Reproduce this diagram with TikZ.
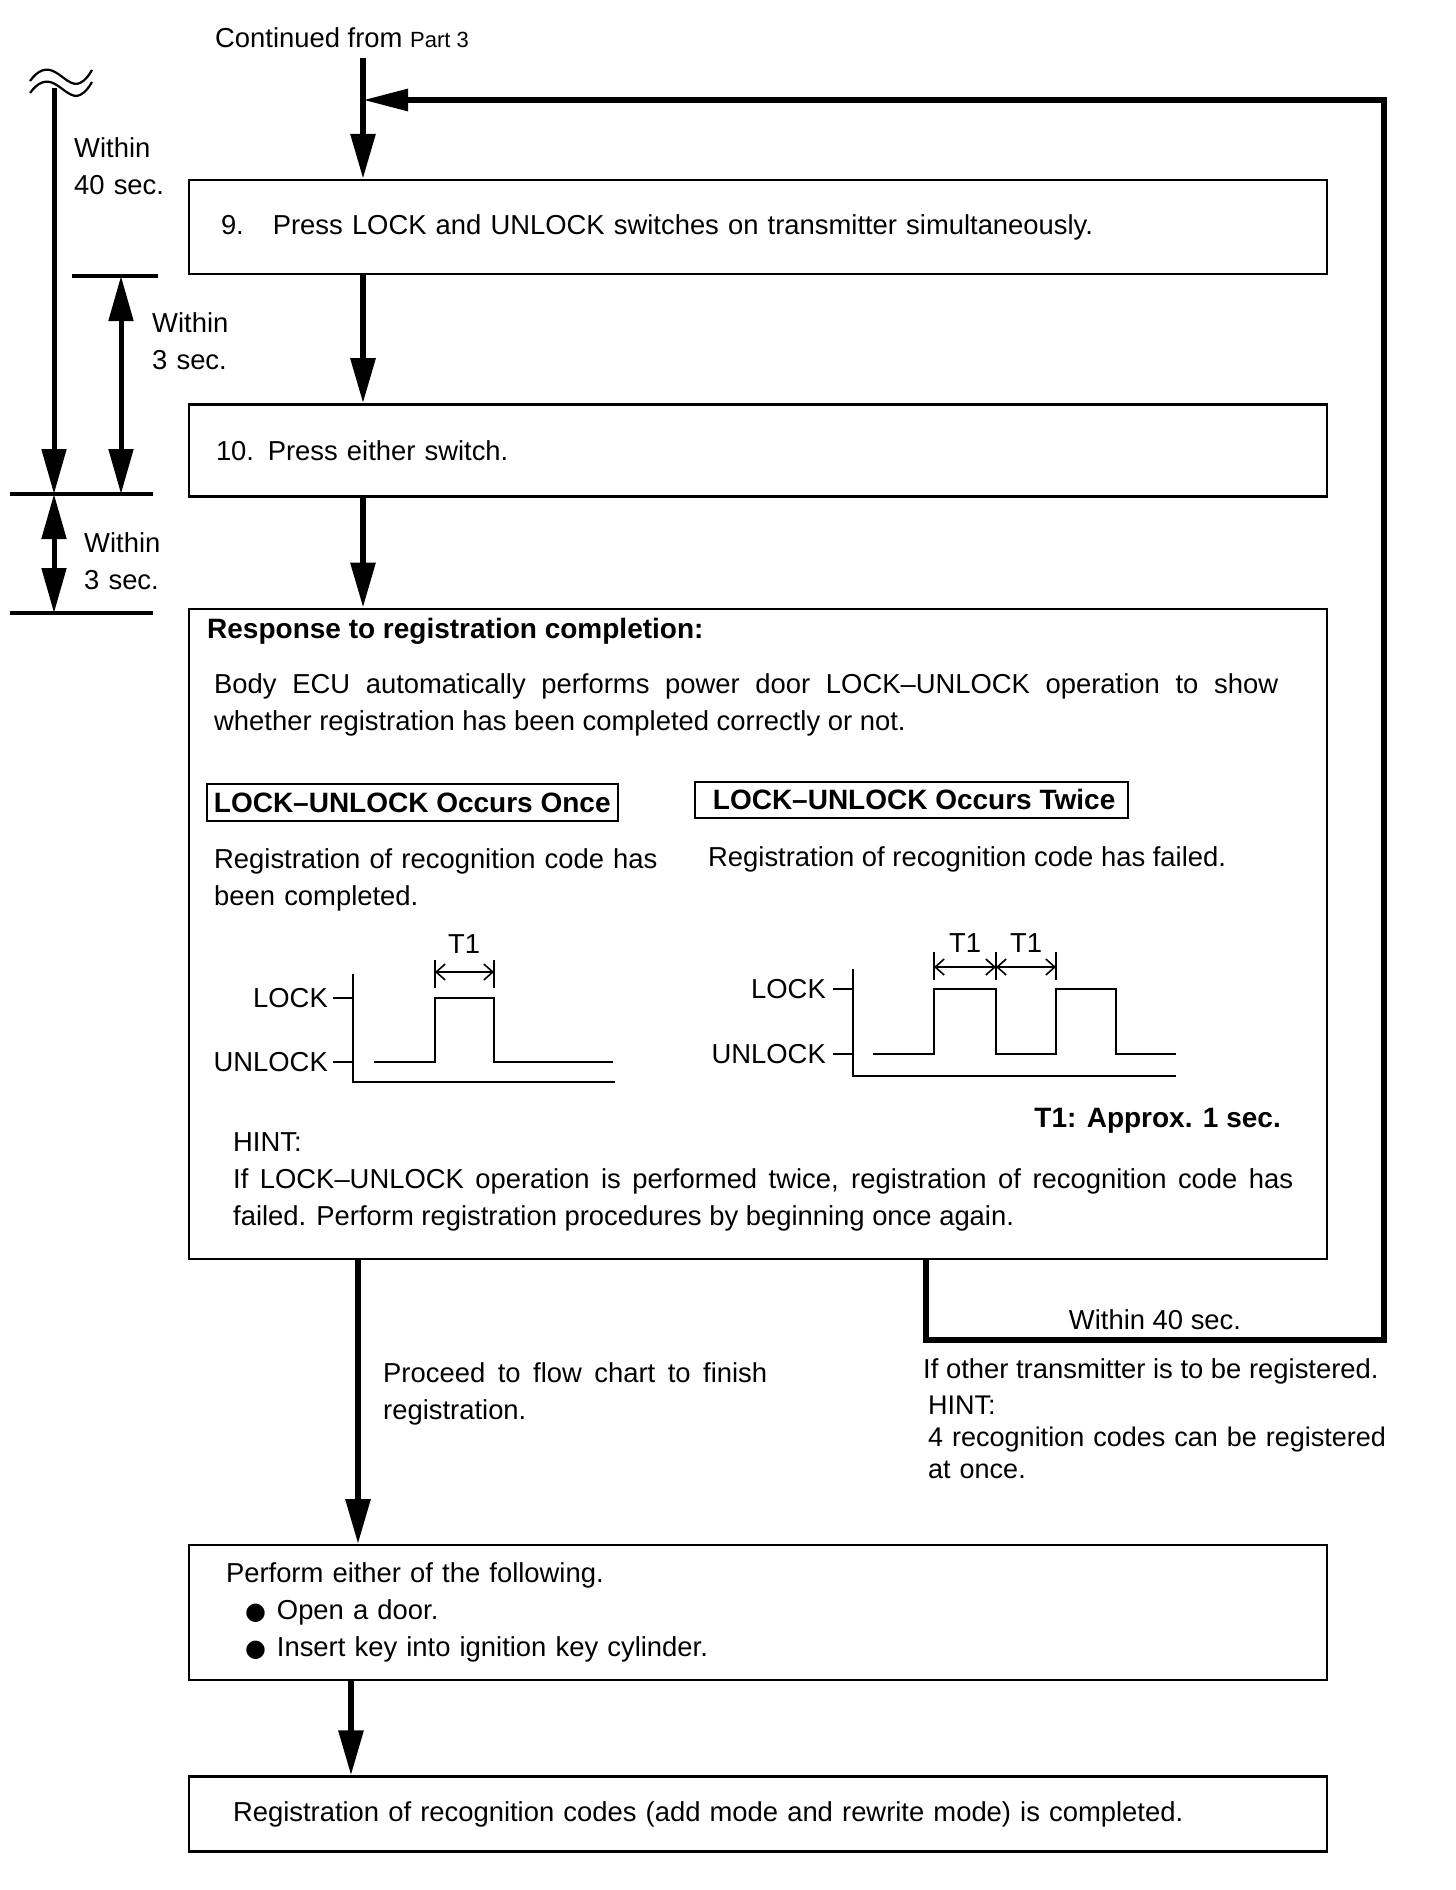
\documentclass[tikz,border=0pt]{standalone}
\usepackage{fontspec}
\setmainfont{Liberation Sans}
\newfontfamily\dejavu{DejaVu Sans}
\usetikzlibrary{positioning,arrows.meta}
\newcommand{\txtsize}{\fontsize{27.4}{37}\selectfont}
\newcommand{\boldsize}{\fontsize{28}{37}\selectfont\bfseries}
\newcommand{\bul}{{\dejavu\fontsize{24}{24}\selectfont ●}}

\begin{document}
\begin{tikzpicture}[x=1pt,y=-1pt,font=\txtsize,>={Triangle[length=45pt,width=24pt]},
  stepbox/.style={draw,line width=2.4pt,align=left},
  tagbox/.style={draw,line width=1.8pt,inner ysep=0pt,font=\boldsize},
  flow/.style={line width=6pt,->},
  dimline/.style={line width=5pt},
  refline/.style={line width=3.5pt},
  sig/.style={line width=2pt},
  tee/.style={line width=1.6pt,{Straight Barb[length=9pt,width=16pt]}-{Straight Barb[length=9pt,width=16pt]}},
  lbl/.style={inner sep=0pt}]
  \useasboundingbox (0,0) rectangle (1456,1890);

  \node[lbl,anchor=base west] (cont) at (215,47) {Continued from {\fontsize{22}{22}\selectfont Part 3}};
  \coordinate (top) at (363,58);
  \coordinate (back) at (358,0);
  \coordinate (last) at (351,0);

  \node[stepbox,inner xsep=32pt,text width=1074pt,minimum height=94pt] (step9) at (758,227)
    {9.\hspace{29pt}Press LOCK and UNLOCK switches on transmitter simultaneously.};
  \node[stepbox,inner xsep=27pt,text width=1084pt,minimum height=92pt,below=128pt of step9] (step10)
    {10. Press either switch.};
  \node[stepbox,inner xsep=30pt,text width=1078pt,minimum height=650pt,below=110pt of step10] (resp) {};
  \node[stepbox,inner xsep=37pt,text width=1064pt,minimum height=135pt,below=284pt of resp] (perform)
    {Perform either of the following.\\\hspace*{19pt}\bul\hspace{11pt}Open a door.\\\hspace*{19pt}\bul\hspace{11pt}Insert key into ignition key cylinder.};
  \node[stepbox,inner xsep=44pt,text width=1050pt,minimum height=75pt,below=94pt of perform] (done)
    {Registration of recognition codes (add mode and rewrite mode) is completed.};

  \draw[flow] (top) -- (top |- step9.north);
  \draw[flow] (step9.south -| top) -- (step10.north -| top);
  \draw[flow] (step10.south -| top) -- (resp.north -| top);
  \draw[flow] (resp.south -| back) -- (perform.north -| back);
  \draw[flow] (perform.south -| last) -- (done.north -| last);

  \coordinate (lp1) at (926,1340);
  \coordinate (lp2) at (1384,1340);
  \coordinate (lp3) at (1384,100);
  \draw[flow,-{Triangle[length=45pt,width=21pt]}] (resp.south -| lp1) -- (lp1) -- (lp2)
    node[midway,above=7pt,lbl] (w40b) {Within 40 sec.} -- (lp3) -- (lp3 -| top);

  \foreach \dy in {0,12}
    \draw[line width=2.2pt] (30,81+\dy) .. controls (38,70+\dy) and (46,67+\dy) .. (55,72+\dy)
      .. controls (64,77+\dy) and (72,87+\dy) .. (80,83+\dy) .. controls (86,80+\dy) and (89,75+\dy) .. (92,70+\dy);
  \draw[dimline,->] (54,88) -- (54,494);
  \draw[refline] (72,276) -- (158,276);
  \draw[dimline,<->] (121,276) -- (121,494);
  \draw[refline] (10,494) -- (153,494);
  \draw[dimline,<->] (54,494) -- (54,613);
  \draw[refline] (10,613) -- (153,613);
  \node[lbl,anchor=base west,text width=100pt,align=left] (w40) at (74,157) {Within\\40 sec.};
  \node[lbl,anchor=base west,text width=100pt,align=left] (w3a) at (152,332) {Within\\3 sec.};
  \node[lbl,anchor=base west,text width=100pt,align=left] (w3b) at (84,552) {Within\\3 sec.};

  \node[lbl,anchor=base west,font=\boldsize] (head) at (207,638) {Response to registration completion:};
  \node[lbl,anchor=base west,text width=1064pt,align=justify] (body) at (214,693)
    {Body ECU automatically performs power door LOCK–UNLOCK operation to show\linebreak whether registration has been completed correctly or not.};
  \node[tagbox,inner xsep=7pt,minimum height=37pt,anchor=north west] (once) at (206,783) {LOCK–UNLOCK Occurs Once};
  \node[tagbox,inner xsep=13pt,minimum height=36pt,anchor=north west] (twice) at (694,781) {\hspace{5pt}LOCK–UNLOCK Occurs Twice};
  \node[lbl,anchor=base west,text width=480pt,align=left] (okmsg) at (214,868) {Registration of recognition code has\\been completed.};
  \node[lbl,anchor=base west] (ngmsg) at (708,866) {Registration of recognition code has failed.};

  \node[lbl,anchor=east] (lock1) at (328,998) {LOCK};
  \node[lbl,anchor=east] (unlock1) at (328,1062) {UNLOCK};
  \node[lbl,anchor=base] (t1a) at (464,953) {T1};
  \draw[sig] (353,974) -- (353,1082) -- (615,1082);
  \draw[sig] (333,998) -- (353,998) (333,1062) -- (353,1062);
  \draw[sig] (374,1062) -- (435,1062) -- (435,998) -- (494,998) -- (494,1062) -- (613,1062);
  \draw[sig] (435,960) -- (435,988) (494,960) -- (494,988);
  \draw[tee] (435,972) -- (494,972);

  \node[lbl,anchor=east] (lock2) at (826,989) {LOCK};
  \node[lbl,anchor=east] (unlock2) at (826,1054) {UNLOCK};
  \node[lbl,anchor=base] (t1b) at (965,952) {T1};
  \node[lbl,anchor=base] (t1c) at (1026,952) {T1};
  \draw[sig] (853,969) -- (853,1076) -- (1176,1076);
  \draw[sig] (833,989) -- (853,989) (833,1054) -- (853,1054);
  \draw[sig] (873,1054) -- (934,1054) -- (934,989) -- (996,989) -- (996,1054) -- (1056,1054)
    -- (1056,989) -- (1116,989) -- (1116,1054) -- (1176,1054);
  \draw[sig] (934,952) -- (934,980) (996,952) -- (996,980) (1056,952) -- (1056,980);
  \draw[tee] (934,967) -- (996,967);
  \draw[tee] (996,967) -- (1056,967);
  \node[lbl,anchor=base east,font=\boldsize] (t1note) at (1281,1127) {T1: Approx. 1 sec.};

  \node[lbl,anchor=base west,text width=1060pt,align=justify] (hint) at (233,1151)
    {HINT:\\If LOCK–UNLOCK operation is performed twice, registration of recognition code has\linebreak failed. Perform registration procedures by beginning once again.};

  \node[lbl,anchor=base west,text width=384pt,align=justify] (proceed) at (383,1382)
    {Proceed to flow chart to finish\linebreak registration.};
  \node[lbl,anchor=base west] (other) at (923,1378) {If other transmitter is to be registered.};
  \node[lbl,anchor=base west,text width=480pt,align=left,font=\fontsize{27}{32}\selectfont] (hint2) at (928,1414)
    {HINT:\\4 recognition codes can be registered\\at once.};
\end{tikzpicture}
\end{document}
